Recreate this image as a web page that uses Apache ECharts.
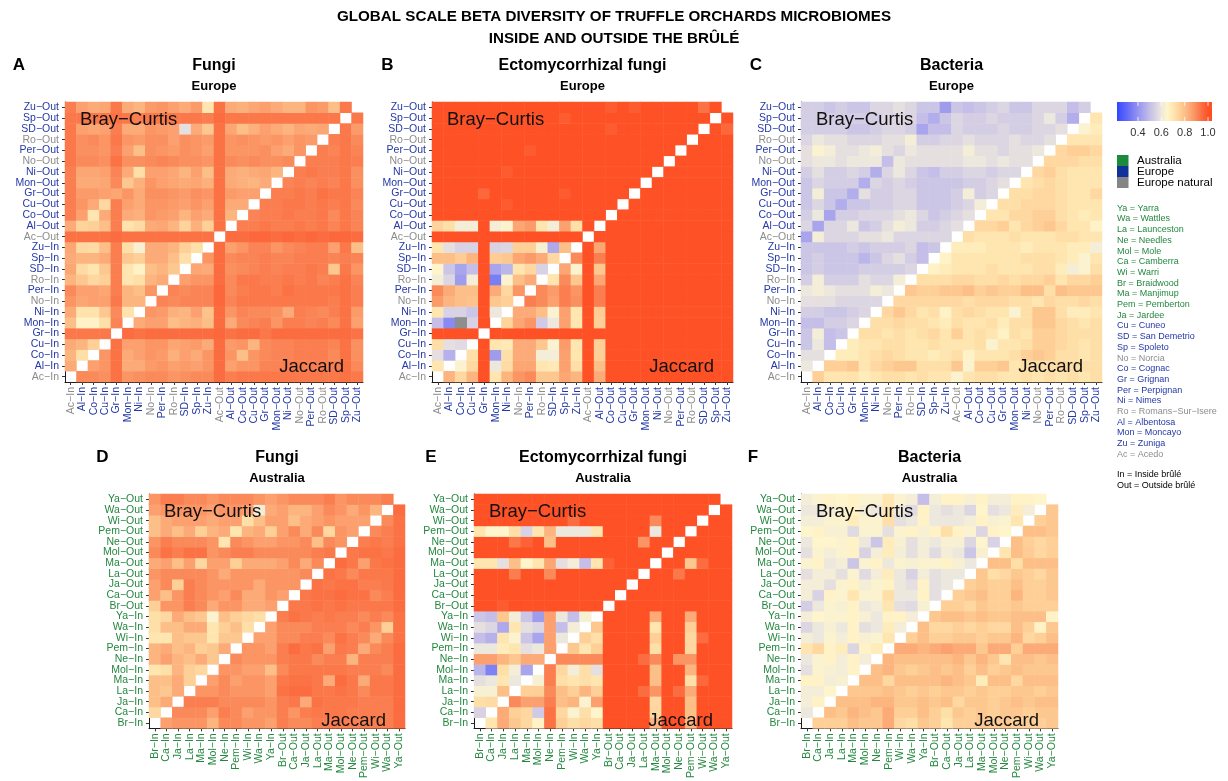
<!DOCTYPE html>
<html>
<head>
<meta charset="utf-8">
<script src="https://cdn.jsdelivr.net/npm/echarts@6/dist/echarts.min.js"></script>
<style>
  html, body { margin: 0; padding: 0; background: #ffffff; }
  #chart { width: 1228px; height: 781px; }
</style>
</head>
<body>
<div id="chart"></div>
<script>
// ---------------------------------------------------------------------------
// Sites (axis order: all "In" samples, then all "Out" samples)
// ---------------------------------------------------------------------------
const europeSites = ['Ac', 'Al', 'Co', 'Cu', 'Gr', 'Mon', 'Ni', 'No', 'Per', 'Ro', 'SD', 'Sp', 'Zu'];
const europeNaturalSites = ['Ac', 'No', 'Ro'];
const australiaSites = ['Br', 'Ca', 'Ja', 'La', 'Ma', 'Mol', 'Ne', 'Pem', 'Wi', 'Wa', 'Ya'];

// Abbreviation key: [code, full name, group]
const siteKey = [
  ['Ya', 'Yarra', 'au'], ['Wa', 'Wattles', 'au'], ['La', 'Launceston', 'au'], ['Ne', 'Needles', 'au'],
  ['Mol', 'Mole', 'au'], ['Ca', 'Camberra', 'au'], ['Wi', 'Warri', 'au'], ['Br', 'Braidwood', 'au'],
  ['Ma', 'Manjimup', 'au'], ['Pem', 'Pemberton', 'au'], ['Ja', 'Jardee', 'au'], ['Cu', 'Cuneo', 'eu'],
  ['SD', 'San Demetrio', 'eu'], ['Sp', 'Spoleto', 'eu'], ['No', 'Norcia', 'nat'], ['Co', 'Cognac', 'eu'],
  ['Gr', 'Grignan', 'eu'], ['Per', 'Perpignan', 'eu'], ['Ni', 'Nimes', 'eu'], ['Ro', 'Romans\u2212Sur\u2212Isere', 'nat'],
  ['Al', 'Albentosa', 'eu'], ['Mon', 'Moncayo', 'eu'], ['Zu', 'Zuniga', 'eu'], ['Ac', 'Acedo', 'nat']
];

// Colour bar tick labels
const colorbarTicks = [0.4, 0.6, 0.8, 1.0];

// Dissimilarity scale: value stops and colours (blue -> pale yellow -> orange-red)
const scaleStops = [0.20, 0.25, 0.30, 0.35, 0.40, 0.45, 0.50, 0.55, 0.60, 0.65, 0.70, 0.75, 0.80, 0.85, 0.90, 0.95, 1.00];
const scaleColors = ['#2e45ff', '#4656fc', '#5f68f8', '#7a7ef4', '#9594f0', '#ada9ec', '#c4bee8', '#d8d2e4',
  '#ede8de', '#fff5cc', '#ffe6b0', '#fed49c', '#fdbf88', '#fca674', '#fa8a5a', '#fb6c40', '#ff5126'];

// ---------------------------------------------------------------------------
// Dissimilarity matrices, in percent.
// Row r = y category (bottom to top), column c = x category (left to right).
// Cells with r > c are Bray-Curtis, cells with r < c are Jaccard.
// null = diagonal, 'NA' = missing value.
// ---------------------------------------------------------------------------
const fungiEurope = [
  [null,90,90,89,94,88,89,90,90,88,89,90,90,95,92,93,93,93,93,93,93,93,93,93,94,93],
  [84,null,86,88,94,84,84,87,88,86,87,86,88,95,86,88,88,91,91,92,92,92,92,92,94,90],
  [82,72,null,88,94,84,86,88,87,83,86,84,88,95,88,80,88,90,91,91,92,92,92,90,94,89],
  [84,82,76,null,94,86,86,88,88,85,86,87,84,95,87,88,82,90,91,91,92,92,92,91,94,89],
  [93,93,93,93,null,95,94,95,95,95,95,95,95,96,94,95,95,93,95,95,95,95,95,95,95,94],
  [80,66,66,72,91,null,84,86,86,80,82,83,80,95,84,90,91,92,88,92,92,91,92,90,94,86],
  [84,71,71,78,90,71,null,88,87,83,82,86,79,95,88,91,90,90,89,84,92,91,90,92,94,87],
  [88,85,86,86,93,82,82,null,91,90,91,91,91,96,91,93,93,93,93,93,93,93,93,92,94,92],
  [90,86,86,85,92,82,80,88,null,91,90,91,91,96,90,92,93,93,92,94,93,93,93,93,94,92],
  [82,78,74,76,92,70,72,82,84,null,86,88,88,95,90,93,93,92,92,93,92,93,91,92,94,91],
  [85,73,70,78,92,70,66,80,82,78,null,85,84,95,89,90,91,92,91,92,92,93,92,78,93,88],
  [84,82,82,84,92,78,76,84,84,80,72,null,88,95,90,91,91,92,91,91,92,92,92,91,92,91],
  [85,74,73,80,92,72,63,84,84,82,76,72,null,95,86,88,91,91,88,90,91,92,92,86,93,80],
  [94,94,94,94,95,94,94,94,94,94,94,94,94,null,95,95,96,96,95,96,95,96,95,96,96,95],
  [84,75,76,80,92,71,73,84,85,82,75,83,76,94,null,92,92,93,92,92,93,92,93,91,93,91],
  [92,86,70,84,92,84,83,88,87,86,82,86,84,94,82,null,91,92,92,93,92,92,93,90,93,91],
  [92,88,84,74,92,86,84,88,88,87,86,88,86,94,84,84,null,92,92,93,93,92,93,92,93,90],
  [92,87,87,86,85,88,84,89,89,88,87,89,88,94,87,86,86,null,92,92,93,92,94,93,93,91],
  [92,84,84,85,90,78,83,88,86,85,84,85,83,94,84,83,82,84,null,91,92,91,92,91,93,89],
  [92,85,85,86,91,84,72,86,86,85,82,86,80,94,84,83,84,85,82,null,92,93,92,92,93,89],
  [93,90,90,89,94,89,89,90,91,90,89,89,88,94,90,89,90,89,89,90,null,92,92,92,93,92],
  [93,89,89,88,92,86,80,89,88,87,89,88,86,94,88,88,88,89,86,84,88,null,92,91,93,91],
  [93,89,90,88,93,88,87,89,89,86,89,88,87,94,88,89,88,87,88,86,88,87,null,92,93,90],
  [93,86,85,86,92,84,84,88,87,86,58,84,78,94,85,80,83,86,84,82,85,84,85,null,93,87],
  [93,93,93,93,94,93,92,93,93,93,93,93,92,95,93,93,93,93,93,93,93,93,93,93,null,93],
  [92,86,84,85,93,84,82,87,88,86,84,87,70,94,84,83,85,86,84,82,82,88,87,80,93,null]
];

const ectoEurope = [
  [null,82,74,82,100,70,82,88,90,78,78,85,82,100,84,100,100,100,100,100,100,100,100,100,100,100],
  [70,null,64,74,100,60,73,85,85,70,69,86,72,100,80,100,100,100,100,100,100,100,100,100,100,100],
  [58,47,null,72,100,42,72,84,84,62,62,86,70,100,76,100,100,100,100,100,100,100,100,100,100,100],
  [72,58,57,null,100,70,69,84,84,78,64,87,70,100,76,100,100,100,100,100,100,100,100,100,100,100],
  [100,100,100,100,null,100,100,100,100,100,100,100,100,100,100,100,100,100,100,100,100,100,100,100,100,100],
  [50,38,'NA',55,100,null,75,85,88,53,60,86,70,100,76,100,100,100,100,100,100,100,100,100,100,100],
  [70,55,55,52,100,60,null,84,84,80,64,86,70,100,77,100,100,100,100,100,100,100,100,100,100,100],
  [87,82,80,79,100,78,76,null,92,90,86,92,89,100,92,100,100,100,100,100,100,100,100,100,100,100],
  [90,84,80,80,100,84,74,88,null,90,87,92,88,100,92,100,100,100,100,100,100,100,100,100,100,100],
  [62,56,42,62,100,35,64,80,84,null,70,90,78,100,85,100,100,100,100,100,100,100,100,100,100,100],
  [65,52,44,50,100,44,48,70,74,55,null,85,64,100,78,100,100,100,100,100,100,100,100,100,100,100],
  [80,80,77,82,100,77,78,85,87,84,74,null,90,100,92,100,100,100,100,100,100,100,100,100,100,100],
  [70,58,55,55,100,55,56,76,76,63,45,80,null,100,85,100,100,100,100,100,100,100,100,100,100,100],
  [100,100,100,100,100,100,100,100,100,100,100,100,100,null,100,100,100,100,100,100,100,100,100,100,100,100],
  [75,72,62,62,100,62,64,85,87,70,62,86,72,100,null,100,100,100,100,100,100,100,100,100,100,100],
  [100,100,100,100,100,100,100,100,100,100,100,100,100,100,100,null,100,100,100,100,100,100,100,100,100,100],
  [100,100,100,100,100,100,98,100,100,100,100,100,100,100,100,100,null,100,100,100,100,100,100,100,100,100],
  [100,100,100,100,96,100,100,100,100,100,100,98,100,100,100,100,100,null,100,100,100,100,100,100,100,100],
  [100,100,100,100,100,100,100,100,100,100,100,100,100,100,100,100,100,100,null,100,100,100,100,100,100,100],
  [100,100,100,100,100,100,98,100,100,100,100,100,100,100,100,100,100,100,100,null,100,100,100,100,100,100],
  [100,100,100,100,100,100,100,100,100,100,100,100,100,100,100,100,100,100,100,100,null,100,100,100,100,100],
  [100,100,100,100,100,100,100,100,98,100,100,100,100,100,100,100,100,100,100,100,100,null,100,100,100,100],
  [100,100,100,100,100,100,100,100,100,100,100,100,100,100,100,100,100,100,100,100,100,100,null,100,100,100],
  [100,100,100,100,100,100,100,100,100,100,100,100,100,100,100,98,100,100,100,100,100,100,100,null,100,96],
  [100,100,100,100,100,100,100,100,100,100,100,98,100,100,100,100,100,100,100,100,100,100,100,100,null,100],
  [100,100,100,100,100,100,100,100,100,100,100,100,100,100,100,98,100,98,100,100,100,100,100,94,100,null]
];

const bacteriaEurope = [
  [null,76,70,70,71,68,70,72,72,70,72,70,70,64,70,72,72,70,70,72,70,72,70,72,70,72],
  [60,null,76,76,78,70,74,76,78,78,72,72,72,78,64,76,76,78,70,72,72,72,74,72,72,72],
  [58,58,null,68,68,70,72,74,72,70,70,68,70,72,66,70,70,70,72,76,78,76,72,72,70,72],
  [52,60,50,null,68,70,70,72,72,70,70,72,70,70,70,72,64,70,70,72,76,76,74,72,70,72],
  [52,62,50,52,null,72,72,70,72,70,72,74,70,76,70,72,70,66,72,70,76,76,74,72,72,72],
  [50,50,54,54,56,null,72,72,74,72,72,70,68,72,70,70,72,68,72,72,78,78,74,72,70,72],
  [54,54,52,52,54,56,null,74,78,74,70,72,66,72,74,72,70,70,64,72,78,78,72,68,68,70],
  [58,58,58,56,56,56,56,null,74,74,74,74,74,74,72,74,74,74,72,72,70,74,72,72,74,72],
  [60,62,60,58,58,58,62,60,null,78,76,76,78,78,80,76,78,76,76,80,80,72,80,78,78,78],
  [54,62,54,54,54,58,56,56,62,null,72,72,72,74,74,72,72,74,72,74,74,76,70,74,74,76],
  [52,54,52,52,52,54,54,54,54,56,null,66,68,70,70,70,72,70,70,70,72,72,68,62,64,72],
  [52,54,52,52,52,48,52,56,58,54,50,null,66,70,70,70,70,70,70,72,72,72,70,68,64,70],
  [52,52,52,52,54,52,54,54,54,56,50,52,null,68,68,68,70,70,70,68,70,70,70,68,68,62],
  [44,62,56,56,56,58,58,60,56,56,56,56,56,null,72,70,70,70,72,70,70,70,72,72,70,70],
  [56,44,56,56,60,52,54,58,62,60,54,54,56,58,null,74,74,76,70,74,76,78,74,70,70,66],
  [54,60,44,54,54,56,56,56,58,60,56,52,54,56,58,null,70,70,74,74,76,76,72,70,68,70],
  [52,56,52,46,52,52,54,54,56,56,52,52,52,54,56,62,null,72,72,74,74,74,72,70,70,70],
  [52,62,52,52,46,58,54,54,56,56,52,52,52,54,62,54,56,null,72,72,74,74,72,70,70,74],
  [52,56,54,54,54,46,56,54,56,54,52,52,52,52,54,54,56,58,null,70,72,74,72,70,70,70],
  [54,58,54,54,56,54,46,56,60,56,52,50,54,54,56,56,54,56,56,null,74,76,72,70,70,70],
  [58,60,60,58,60,60,60,50,60,58,58,58,58,58,60,60,58,60,58,58,null,74,74,74,72,72],
  [58,64,62,58,58,60,62,58,56,60,58,58,58,58,62,58,58,56,58,58,60,null,74,76,76,74],
  [56,60,58,58,56,56,56,58,58,62,54,54,56,56,58,56,56,56,58,56,56,58,null,70,70,70],
  [54,54,54,54,52,52,54,56,56,54,44,50,50,56,54,54,54,56,54,54,56,56,58,null,64,68],
  [54,54,54,54,54,54,54,56,56,56,50,46,52,56,54,54,56,54,54,54,56,60,54,46,null,70],
  [54,54,52,54,52,52,56,56,58,56,52,52,42,52,50,52,54,56,52,52,56,56,56,50,54,null]
];

const fungiAustralia = [
  [null,86,88,88,88,82,90,90,88,88,86,92,90,90,92,92,92,92,92,92,92,95],
  [74,null,90,90,90,86,92,90,86,88,88,92,88,92,93,93,93,92,92,92,92,95],
  [80,84,null,92,92,92,90,90,90,90,88,92,93,84,94,93,93,93,92,92,92,95],
  [80,78,84,null,88,88,90,88,88,88,86,94,95,95,93,93,94,93,90,93,93,95],
  [80,80,84,76,null,86,90,86,88,88,86,93,94,94,93,84,95,93,84,93,93,95],
  [70,72,82,76,74,null,88,88,86,86,80,90,93,93,93,93,93,92,92,92,90,95],
  [82,86,82,80,84,78,null,90,88,88,88,92,93,93,90,92,92,82,92,92,92,95],
  [82,84,80,82,76,78,84,null,88,88,86,92,95,93,94,86,93,92,84,90,92,95],
  [70,70,80,78,78,70,78,78,null,86,86,90,90,92,92,90,94,92,90,84,90,94],
  [72,80,80,84,84,70,76,80,72,null,86,90,90,90,92,92,92,90,92,88,76,94],
  [72,74,84,80,78,64,80,76,74,72,null,92,94,93,92,93,92,92,90,92,90,94],
  [76,88,88,92,90,84,88,88,84,84,86,null,93,93,94,93,94,93,93,93,93,95],
  [86,80,88,92,90,88,86,90,84,84,88,86,null,93,94,94,95,94,94,90,92,95],
  [86,90,76,92,90,88,88,88,88,84,88,88,88,null,94,93,94,94,92,92,93,95],
  [88,90,90,90,90,88,84,88,88,88,88,88,88,90,null,94,93,90,93,93,93,95],
  [84,86,80,86,74,86,86,76,84,84,84,86,90,84,90,null,95,93,86,93,94,95],
  [90,94,92,94,94,88,90,92,92,90,90,90,90,90,92,93,null,93,94,94,93,95],
  [88,92,90,90,90,88,70,90,88,86,86,88,88,90,80,90,88,null,92,93,92,94],
  [80,84,80,84,76,82,84,70,82,84,76,86,90,84,90,74,88,86,null,90,92,94],
  [80,84,86,86,86,84,86,86,72,80,86,86,80,84,86,88,86,86,86,null,90,94],
  [86,88,88,88,88,86,88,88,86,62,84,86,82,82,86,90,88,84,88,82,null,95],
  [88,92,92,90,90,88,90,90,90,88,86,88,90,90,90,92,88,90,90,90,92,null]
];

const ectoAustralia = [
  [null,70,84,78,74,66,94,76,72,74,72,100,100,100,100,82,100,100,82,100,100,100],
  [55,null,84,76,74,53,94,74,64,72,65,100,100,100,100,74,100,100,80,100,100,100],
  [72,73,null,90,86,86,92,80,82,64,86,100,100,100,100,74,100,100,80,100,100,100],
  [63,63,80,null,76,76,90,80,76,82,76,100,100,100,95,88,100,95,84,100,100,100],
  [58,60,70,60,null,63,92,72,70,72,70,100,100,100,100,80,100,100,72,96,100,100],
  [48,36,72,62,44,null,92,74,62,72,58,100,100,100,100,80,100,100,82,100,100,100],
  [86,86,82,78,84,84,null,90,90,90,90,100,100,100,95,90,100,88,88,100,100,100],
  [60,60,68,70,58,60,86,null,78,70,76,100,100,100,100,72,100,100,74,100,100,100],
  [50,47,70,64,52,44,86,60,null,76,72,100,100,100,100,76,100,100,74,95,100,100],
  [58,56,45,70,58,56,86,50,62,null,78,100,100,100,100,70,100,100,76,100,100,100],
  [52,50,78,62,52,42,86,60,50,63,null,100,100,100,100,84,100,100,84,100,100,100],
  [100,100,98,100,100,100,100,100,100,100,100,null,100,100,100,100,100,100,100,100,100,100],
  [100,100,100,100,100,100,100,100,100,100,100,100,null,100,100,100,100,100,100,100,100,100],
  [100,100,100,100,100,100,100,100,100,100,100,100,100,null,100,100,100,100,100,100,100,100],
  [100,100,100,92,100,100,90,100,100,100,100,100,100,100,null,100,100,93,100,100,100,100],
  [70,70,58,80,65,70,85,58,62,50,70,97,100,100,100,null,100,100,78,95,100,100],
  [100,100,100,100,100,100,100,100,100,100,100,100,100,100,100,100,null,100,100,100,100,100],
  [100,100,100,93,97,100,80,100,100,100,100,100,100,100,88,100,100,null,100,100,100,100],
  [70,65,65,72,55,70,82,60,60,60,70,100,100,100,100,60,100,100,null,100,100,100],
  [100,100,100,100,100,100,100,100,95,100,100,100,100,100,100,90,100,100,100,null,100,100],
  [100,100,100,100,100,100,100,100,100,100,100,100,100,100,100,100,100,100,100,100,null,100],
  [100,100,100,100,100,100,100,100,100,100,100,100,100,100,100,100,100,100,100,100,100,null]
];

const bacteriaAustralia = [
  [null,76,76,76,80,78,78,84,74,72,78,76,70,76,76,78,76,78,76,76,76,78],
  [60,null,80,78,82,80,78,84,76,76,80,76,72,78,76,78,76,78,78,76,78,78],
  [62,66,null,80,80,80,82,82,78,78,80,78,80,74,78,78,76,78,80,78,80,80],
  [62,62,65,null,78,78,78,80,78,76,78,76,78,78,76,78,76,76,78,78,76,78],
  [66,66,62,63,null,80,80,74,80,80,80,80,82,80,78,68,80,80,74,80,80,80],
  [58,64,63,62,66,null,80,82,78,76,78,80,78,80,76,80,76,78,80,78,78,78],
  [60,64,66,62,66,62,null,82,80,80,80,80,80,82,78,82,78,70,80,80,78,80],
  [70,74,66,68,56,66,68,null,84,84,82,84,86,84,84,78,84,84,76,84,84,84],
  [62,60,64,62,66,63,64,70,null,76,80,76,76,78,78,76,78,78,82,74,76,80],
  [56,60,63,60,66,58,60,68,62,null,80,74,74,76,74,76,74,74,80,76,66,78],
  [62,65,64,64,66,63,60,66,66,62,null,78,80,80,78,80,78,78,80,80,80,66],
  [54,60,64,63,66,60,62,70,58,57,63,null,76,76,74,78,76,76,78,76,76,76],
  [62,55,66,64,70,64,64,72,60,60,66,58,null,76,78,80,76,76,82,76,76,78],
  [62,62,58,64,66,62,64,66,60,58,66,58,60,null,76,78,76,76,80,76,76,78],
  [58,62,62,58,64,57,62,68,60,55,62,58,60,60,null,78,72,74,78,76,74,78],
  [64,66,60,62,52,64,66,60,64,63,64,64,66,63,60,null,80,80,72,80,80,80],
  [58,64,62,64,66,55,62,68,62,58,62,57,62,60,52,63,null,70,80,77,74,76],
  [60,65,65,64,66,60,52,68,63,58,62,60,63,63,56,65,55,null,80,76,74,76],
  [65,66,63,63,57,64,64,58,64,66,63,66,72,66,64,56,66,65,null,80,80,78],
  [62,62,64,64,68,64,64,72,58,60,66,60,60,60,62,66,63,64,70,null,76,78],
  [60,60,62,64,66,62,60,70,60,57,66,60,58,60,56,65,58,60,68,62,null,78],
  [62,64,66,65,66,64,64,70,64,62,50,62,66,66,63,66,62,62,66,66,65,null]
];

// ---------------------------------------------------------------------------
// Styling
// ---------------------------------------------------------------------------
const FONT = '"Liberation Sans", Arial, Helvetica, sans-serif';
const GROUP_COLORS = { au: '#24883f', eu: '#2438a6', nat: '#8c8c8c' };
const GROUP_SWATCH = { au: '#1b8a3c', eu: '#12309a', nat: '#858585' };
const MINUS = '\u2212';

function categoriesFor(sites) {
  return sites.map(s => s + MINUS + 'In').concat(sites.map(s => s + MINUS + 'Out'));
}
function labelColor(name) {
  const site = name.split(MINUS)[0];
  if (australiaSites.indexOf(site) >= 0) return GROUP_COLORS.au;
  if (europeNaturalSites.indexOf(site) >= 0) return GROUP_COLORS.nat;
  return GROUP_COLORS.eu;
}

const panels = [
  { letter: 'A', title: 'Fungi', region: 'Europe', sites: europeSites, matrix: fungiEurope,
    grid: { left: 65, top: 102, width: 298, height: 280 }, letterX: 19 },
  { letter: 'B', title: 'Ectomycorrhizal fungi', region: 'Europe', sites: europeSites, matrix: ectoEurope,
    grid: { left: 432, top: 102, width: 301, height: 280 }, letterX: 387.5 },
  { letter: 'C', title: 'Bacteria', region: 'Europe', sites: europeSites, matrix: bacteriaEurope,
    grid: { left: 801, top: 102, width: 301, height: 280 }, letterX: 756 },
  { letter: 'D', title: 'Fungi', region: 'Australia', sites: australiaSites, matrix: fungiAustralia,
    grid: { left: 149, top: 494, width: 256, height: 242 }, letterX: 102.5 },
  { letter: 'E', title: 'Ectomycorrhizal fungi', region: 'Australia', sites: australiaSites, matrix: ectoAustralia,
    grid: { left: 474, top: 494, width: 258, height: 242 }, letterX: 431 },
  { letter: 'F', title: 'Bacteria', region: 'Australia', sites: australiaSites, matrix: bacteriaAustralia,
    grid: { left: 801, top: 494, width: 257, height: 242 }, letterX: 753 }
];

const grids = [], xAxes = [], yAxes = [], series = [], graphics = [];
const missingCells = [];

function text(x, y, str, font, fill, align, valign) {
  graphics.push({
    type: 'text', x: x, y: y, z: 100, silent: true,
    style: { text: str, font: font, fill: fill || '#000',
             textAlign: align || 'left', align: align || 'left',
             textVerticalAlign: valign || 'middle', verticalAlign: valign || 'middle' }
  });
}

panels.forEach((p, i) => {
  const cats = categoriesFor(p.sites);
  grids.push(Object.assign({ containLabel: false }, p.grid));
  const axisCommon = {
    type: 'category', data: cats, gridIndex: i,
    axisLine: { show: true, lineStyle: { color: '#1a1a1a', width: 1 } },
    axisTick: { show: true, alignWithLabel: true, length: 3, lineStyle: { color: '#333333' } },
    splitLine: { show: false }, splitArea: { show: false }
  };
  xAxes.push(Object.assign({}, axisCommon, {
    axisLabel: { interval: 0, rotate: 90, margin: 5, fontSize: 10.5, fontFamily: FONT,
                 color: (v) => labelColor(v) }
  }));
  yAxes.push(Object.assign({}, axisCommon, {
    axisLabel: { interval: 0, margin: 6, fontSize: 10.5, fontFamily: FONT,
                 color: (v) => labelColor(v) }
  }));

  const cells = [];
  p.matrix.forEach((row, r) => {
    row.forEach((v, c) => {
      if (v === null) return;
      if (v === 'NA') { missingCells.push({ panel: i, value: [c, r, 0] }); return; }
      cells.push([c, r, v / 100]);
    });
  });
  series.push({
    type: 'heatmap', name: p.letter, xAxisIndex: i, yAxisIndex: i, data: cells,
    progressive: 0, animation: false, emphasis: { disabled: true }
  });

  const g = p.grid;
  const titleY = g.top - 36.5, subY = g.top - 15.5;
  const cx = g.left + g.width / 2;
  text(p.letterX, titleY, p.letter, 'bold 17px ' + FONT, '#000', 'center');
  text(cx, titleY, p.title, 'bold 16px ' + FONT, '#000', 'center');
  text(cx, subY, p.region, 'bold 13px ' + FONT, '#000', 'center');
  text(g.left + 15, g.top + 18, 'Bray' + MINUS + 'Curtis', '18.5px ' + FONT, '#111', 'left');
  text(g.left + g.width - 19, g.top + g.height - 15, 'Jaccard', '18.5px ' + FONT, '#111', 'right');
});

// Missing values are drawn in grey on their own layer
missingCells.forEach((m, k) => {
  series.push({
    type: 'heatmap', name: 'missing' + k, xAxisIndex: m.panel, yAxisIndex: m.panel,
    data: [m.value], progressive: 0, animation: false, emphasis: { disabled: true }
  });
});
const missingSeriesIdx = missingCells.map((m, k) => panels.length + k);

// ---------------------------------------------------------------------------
// Main title
// ---------------------------------------------------------------------------
text(614, 17, 'GLOBAL SCALE BETA DIVERSITY OF TRUFFLE ORCHARDS MICROBIOMES', 'bold 15.2px ' + FONT, '#000', 'center');
text(614, 39, 'INSIDE AND OUTSIDE THE BR\u00DBL\u00C9', 'bold 15.2px ' + FONT, '#000', 'center');

// ---------------------------------------------------------------------------
// Legend: colour bar
// ---------------------------------------------------------------------------
const bar = { x0: 1117, x1: 1212, y0: 102, y1: 121 };
const pxPerUnit = 116.7, x04 = 1138;             // 0.4 sits at x04, 0.2 units per 23.3 px
const valAt = x => 0.4 + (x - x04) / pxPerUnit;
const vLo = valAt(bar.x0), vHi = valAt(bar.x1);
const stops = [];
scaleStops.forEach((v, k) => {
  const off = (v - vLo) / (vHi - vLo);
  if (off >= 0 && off <= 1) stops.push({ offset: off, color: scaleColors[k] });
});
stops.unshift({ offset: 0, color: scaleColors[0] });
stops.push({ offset: 1, color: scaleColors[scaleColors.length - 1] });
graphics.push({
  type: 'rect', silent: true, z: 100,
  shape: { x: bar.x0, y: bar.y0, width: bar.x1 - bar.x0, height: bar.y1 - bar.y0 },
  style: { fill: { type: 'linear', x: 0, y: 0, x2: 1, y2: 0, colorStops: stops } }
});
colorbarTicks.forEach(t => {
  const x = x04 + (t - 0.4) * pxPerUnit;
  graphics.push({ type: 'line', silent: true, z: 101, shape: { x1: x, y1: bar.y0, x2: x, y2: bar.y0 + 4 },
                  style: { stroke: 'rgba(255,255,255,0.8)', lineWidth: 1 } });
  graphics.push({ type: 'line', silent: true, z: 101, shape: { x1: x, y1: bar.y1 - 4, x2: x, y2: bar.y1 },
                  style: { stroke: 'rgba(255,255,255,0.8)', lineWidth: 1 } });
  text(x, 133, t.toFixed(1), '11px ' + FONT, '#333333', 'center');
});

// Legend: sample groups
[['Australia', 'au'], ['Europe', 'eu'], ['Europe natural', 'nat']].forEach((g, k) => {
  const y = 155 + k * 11;
  graphics.push({ type: 'rect', silent: true, z: 100, shape: { x: 1117, y: y, width: 11.5, height: 11 },
                  style: { fill: GROUP_SWATCH[g[1]] } });
  text(1137, y + 5.5, g[0], '11.5px ' + FONT, '#000', 'left');
});

// Legend: abbreviations
siteKey.forEach((s, k) => {
  text(1117, 208.3 + k * 10.7, s[0] + ' = ' + s[1], '9px ' + FONT, GROUP_COLORS[s[2]], 'left');
});
text(1117, 475, 'In = Inside br\u00FBl\u00E9', '9px ' + FONT, '#000', 'left');
text(1117, 485.7, 'Out = Outside br\u00FBl\u00E9', '9px ' + FONT, '#000', 'left');

// ---------------------------------------------------------------------------
const chart = echarts.init(document.getElementById('chart'), null, { renderer: 'canvas' });
chart.setOption({
  animation: false,
  backgroundColor: '#ffffff',
  textStyle: { fontFamily: FONT },
  grid: grids,
  xAxis: xAxes,
  yAxis: yAxes,
  visualMap: [
    { type: 'continuous', show: false, dimension: 2, seriesIndex: [0, 1, 2, 3, 4, 5],
      min: scaleStops[0], max: scaleStops[scaleStops.length - 1], inRange: { color: scaleColors } },
    { type: 'continuous', show: false, dimension: 2, seriesIndex: missingSeriesIdx,
      min: 0, max: 1, inRange: { color: ['#8e8e8e', '#8e8e8e'] } }
  ],
  series: series,
  graphic: { elements: graphics }
});
</script>
</body>
</html>
